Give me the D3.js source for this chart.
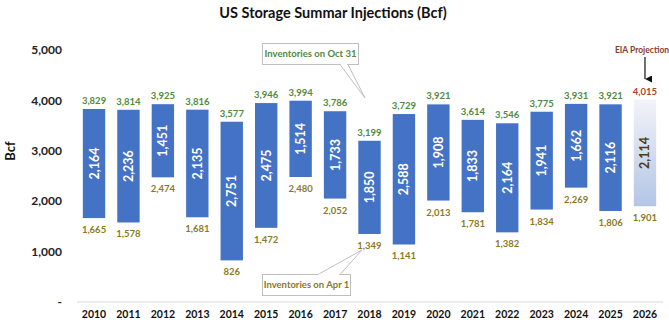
<!DOCTYPE html>
<html>
<head>
<meta charset="utf-8">
<script src="https://cdn.jsdelivr.net/npm/d3@7"></script>
<style>
  html, body { margin: 0; padding: 0; background: #ffffff; }
  svg { display: block; font-family: Lato, "Open Sans", sans-serif; }
</style>
</head>
<body>
<svg id="chart" width="669" height="325"></svg>
<script>
// Storage season by year: inventories on Apr 1 (start) and Oct 31 (end), Bcf
const years = ["2010","2011","2012","2013","2014","2015","2016","2017","2018","2019","2020","2021","2022","2023","2024","2025","2026"];
const aprilInventory = [1665,1578,2474,1681,826,1472,2480,2052,1349,1141,2013,1781,1382,1834,2269,1806,1901];
const octoberInventory = [3829,3814,3925,3816,3577,3946,3994,3786,3199,3729,3921,3614,3546,3775,3931,3921,4015];
const injections = [2164,2236,1451,2135,2751,2475,1514,1733,1850,2588,1908,1833,2164,1941,1662,2116,2114];
const projectedYear = "2026";
const yTicks = [0,1000,2000,3000,4000,5000];

const rows = years.map((y, i) => ({
  year: y,
  start: aprilInventory[i],
  end: aprilInventory[i] + injections[i],
  endLabel: octoberInventory[i],
  injection: injections[i],
  projected: y === projectedYear
}));

const svg = d3.select("#chart");
const fmt = d3.format(",");

const x = d3.scaleBand().domain(years).range([76.8, 662.2])
  .paddingInner(0.35).paddingOuter(0.175);
const y = d3.scaleLinear().domain([0, 5000]).range([302, 50]);

const defs = svg.append("defs");
const grad = defs.append("linearGradient").attr("id", "projGrad")
  .attr("x1", 0).attr("y1", 0).attr("x2", 0).attr("y2", 1);
grad.append("stop").attr("offset", "0%").attr("stop-color", "#f3f3f9");
grad.append("stop").attr("offset", "100%").attr("stop-color", "#b3c5e6");
defs.append("marker").attr("id", "arrowHead")
  .attr("viewBox", "0 0 10 10").attr("refX", 5).attr("refY", 10)
  .attr("markerWidth", 7).attr("markerHeight", 7).attr("orient", "auto-start-reverse")
  .attr("markerUnits", "userSpaceOnUse")
  .append("path").attr("d", "M0,0 L10,0 L5,10 Z").attr("fill", "#111");

// Title
svg.append("text").attr("x", 333).attr("y", 18).attr("text-anchor", "middle")
  .attr("font-size", 14.5).attr("font-weight", 700).attr("fill", "#111")
  .text("US Storage Summar Injections (Bcf)");

// Y axis labels
svg.append("g").selectAll("text").data(yTicks).join("text")
  .attr("x", 62).attr("y", d => y(d)).attr("dy", "0.35em")
  .attr("text-anchor", "end").attr("font-size", 12).attr("font-weight", 700)
  .attr("fill", "#222")
  .text(d => d === 0 ? "-" : fmt(d));

svg.append("text").attr("transform", "translate(15,151) rotate(-90)")
  .attr("text-anchor", "middle").attr("font-size", 13).attr("font-weight", 700)
  .attr("fill", "#111").text("Bcf");

// Baseline
svg.append("line").attr("x1", 77).attr("x2", 663).attr("y1", y(0)).attr("y2", y(0))
  .attr("stroke", "#d9d9d9").attr("stroke-width", 1);

// X axis labels
const xAxis = d3.axisBottom(x).tickSize(0).tickPadding(9);
const gx = svg.append("g").attr("transform", `translate(0,${y(0)})`).call(xAxis);
gx.select(".domain").remove();
gx.selectAll("text").attr("font-family", "Lato, sans-serif")
  .attr("font-size", 10.5).attr("font-weight", 700).attr("fill", "#111");

// Floating bars
const bars = svg.append("g");
bars.selectAll("rect").data(rows).join("rect")
  .attr("x", d => x(d.year)).attr("width", x.bandwidth())
  .attr("y", d => y(d.end)).attr("height", d => y(d.start) - y(d.end))
  .attr("fill", d => d.projected ? "url(#projGrad)" : "#4472c4");

// Injection labels inside bars
bars.selectAll("text.inj").data(rows).join("text").attr("class", "inj")
  .attr("transform", d => `translate(${x(d.year) + x.bandwidth() / 2},${(y(d.start) + y(d.end)) / 2}) rotate(-90)`)
  .attr("text-anchor", "middle").attr("dy", "0.36em")
  .attr("font-size", 12.5).attr("font-weight", 700)
  .attr("fill", d => d.projected ? "#4d3b12" : "#ffffff")
  .text(d => fmt(d.injection));

// End-of-season labels
bars.selectAll("text.top").data(rows).join("text").attr("class", "top")
  .attr("x", d => x(d.year) + x.bandwidth() / 2).attr("y", d => y(d.end) - 5)
  .attr("text-anchor", "middle").attr("font-size", 9.5).attr("font-weight", 700)
  .attr("fill", d => d.projected ? "#a5462a" : "#4f8a3c")
  .text(d => fmt(d.endLabel));

// Start-of-season labels
bars.selectAll("text.bot").data(rows).join("text").attr("class", "bot")
  .attr("x", d => x(d.year) + x.bandwidth() / 2).attr("y", d => y(d.start) + 15)
  .attr("text-anchor", "middle").attr("font-size", 9.5).attr("font-weight", 700)
  .attr("fill", "#8a7a1e")
  .text(d => fmt(d.start));

// Callouts
function callout(box, base, tip, label, color) {
  const g = svg.append("g");
  g.append("path")
    .attr("d", `M${base[0]},${base[1]} L${tip[0]},${tip[1]} L${base[2]},${base[1]}`)
    .attr("fill", "#fff").attr("stroke", "#bfbfbf").attr("stroke-width", 1);
  g.append("rect").attr("x", box[0]).attr("y", box[1]).attr("width", box[2]).attr("height", box[3])
    .attr("fill", "#fff").attr("stroke", "#bfbfbf").attr("stroke-width", 1);
  // cover the edge segment where pointer joins the box
  g.append("line").attr("x1", base[0] + 0.8).attr("x2", base[2] - 0.8)
    .attr("y1", base[1]).attr("y2", base[1]).attr("stroke", "#fff").attr("stroke-width", 1.5);
  g.append("text").attr("x", box[0] + box[2] / 2).attr("y", box[1] + box[3] / 2).attr("dy", "0.35em")
    .attr("text-anchor", "middle").attr("font-size", 9.5).attr("font-weight", 700)
    .attr("fill", color).text(label);
}
callout([262.5, 43.5, 96, 21], [340, 64.5, 348], [365, 98], "Inventories on Oct 31", "#4f8a3c");
callout([262.5, 274.5, 88, 21], [318, 274.5, 340], [362, 250], "Inventories on Apr 1", "#8a7a1e");

// Projection marker
const px = x(projectedYear) + x.bandwidth() / 2;
svg.append("text").attr("x", 642).attr("y", 50).attr("dy", "0.35em")
  .attr("text-anchor", "middle").attr("font-size", 8.5).attr("font-weight", 700)
  .attr("fill", "#8b3a2a").text("EIA Projection");
svg.append("line").attr("x1", px).attr("x2", px).attr("y1", 57).attr("y2", 79)
  .attr("stroke", "#111").attr("stroke-width", 1.2).attr("marker-end", "url(#arrowHead)");
</script>
</body>
</html>
